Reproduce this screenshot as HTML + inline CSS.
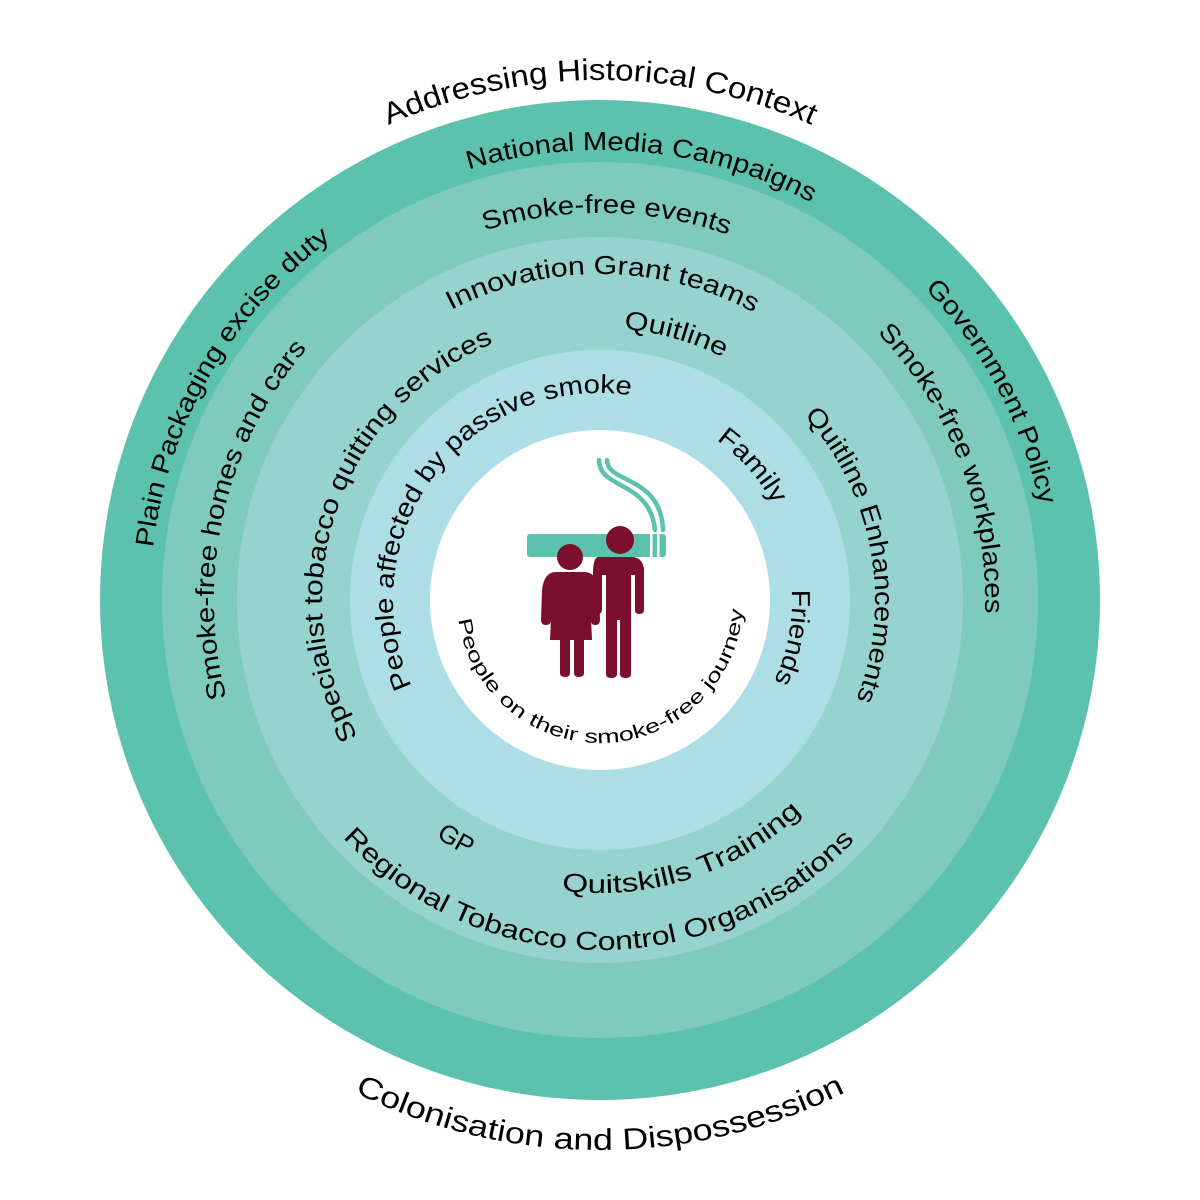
<!DOCTYPE html>
<html><head><meta charset="utf-8"><style>html,body{margin:0;padding:0;background:#fff}svg{display:block}</style></head>
<body>
<svg width="1200" height="1200" viewBox="0 0 1200 1200" xmlns="http://www.w3.org/2000/svg" font-family="Liberation Sans, sans-serif">
<defs>
<!-- clockwise full circles starting at bottom -->
<path id="t520" d="M600,1120 A520,520 0 1 1 600,80 A520,520 0 1 1 600,1120"/>
<path id="t450" d="M600,1050 A450,450 0 1 1 600,150 A450,450 0 1 1 600,1050"/>
<path id="t387" d="M600,987 A387,387 0 1 1 600,213 A387,387 0 1 1 600,987"/>
<path id="t386" d="M600,986 A386,386 0 1 1 600,214 A386,386 0 1 1 600,986"/>
<path id="t385" d="M600,985 A385,385 0 1 1 600,215 A385,385 0 1 1 600,985"/>
<path id="t326" d="M600,926 A326,326 0 1 1 600,274 A326,326 0 1 1 600,926"/>
<path id="t278" d="M600,878 A278,278 0 1 1 600,322 A278,278 0 1 1 600,878"/>
<path id="t275" d="M600,875 A275,275 0 1 1 600,325 A275,275 0 1 1 600,875"/>
<path id="t272" d="M600,872 A272,272 0 1 1 600,328 A272,272 0 1 1 600,872"/>
<path id="t207" d="M600,807 A207,207 0 1 1 600,393 A207,207 0 1 1 600,807"/>
<path id="t198" d="M600,798 A198,198 0 1 1 600,402 A198,198 0 1 1 600,798"/>
<path id="t192" d="M600,792 A192,192 0 1 1 600,408 A192,192 0 1 1 600,792"/>
<!-- counterclockwise full circles starting at top -->
<path id="b550" d="M600,50 A550,550 0 1 0 600,1150 A550,550 0 1 0 600,50"/>
<path id="b350" d="M600,250 A350,350 0 1 0 600,950 A350,350 0 1 0 600,250"/>
<path id="b293" d="M600,307 A293,293 0 1 0 600,893 A293,293 0 1 0 600,307"/>
<path id="b288" d="M600,312 A288,288 0 1 0 600,888 A288,288 0 1 0 600,312"/>
<path id="b143" d="M600,457 A143,143 0 1 0 600,743 A143,143 0 1 0 600,457"/>
</defs>
<circle cx="600" cy="600" r="500" fill="#5cc2ad"/>
<circle cx="600" cy="600" r="438" fill="#7ecbbd"/>
<circle cx="600" cy="600" r="363" fill="#96d3cf"/>
<circle cx="600" cy="600" r="250" fill="#aedee5"/>
<circle cx="600" cy="600" r="170" fill="#ffffff"/>

<g fill="#000" text-anchor="middle">
<text font-size="30"><textPath href="#t520" startOffset="50%" textLength="436" lengthAdjust="spacingAndGlyphs">Addressing Historical Context</textPath></text>
<text font-size="26"><textPath href="#t450" startOffset="51.53%" textLength="353" lengthAdjust="spacingAndGlyphs">National Media Campaigns</textPath></text>
<text font-size="26"><textPath href="#t387" startOffset="50.28%" textLength="248" lengthAdjust="spacingAndGlyphs">Smoke-free events</textPath></text>
<text font-size="26"><textPath href="#t326" startOffset="50.14%" textLength="315" lengthAdjust="spacingAndGlyphs">Innovation Grant teams</textPath></text>
<text font-size="26"><textPath href="#t272" startOffset="54.44%" textLength="104" lengthAdjust="spacingAndGlyphs">Quitline</textPath></text>
<text font-size="26"><textPath href="#t207" startOffset="35.28%" textLength="445" lengthAdjust="spacingAndGlyphs">People affected by passive smoke</textPath></text>
<text font-size="26"><textPath href="#t278" startOffset="30.28%" textLength="470" lengthAdjust="spacingAndGlyphs">Specialist tobacco quitting services</textPath></text>
<text font-size="26"><textPath href="#t386" startOffset="28.61%" textLength="373" lengthAdjust="spacingAndGlyphs">Smoke-free homes and cars</textPath></text>
<text font-size="26"><textPath href="#t450" startOffset="33.33%" textLength="366" lengthAdjust="spacingAndGlyphs">Plain Packaging excise duty</textPath></text>
<text font-size="26"><textPath href="#t450" startOffset="67.22%" textLength="248" lengthAdjust="spacingAndGlyphs">Government Policy</textPath></text>
<text font-size="26"><textPath href="#t385" startOffset="69.17%" textLength="309" lengthAdjust="spacingAndGlyphs">Smoke-free workplaces</textPath></text>
<text font-size="26"><textPath href="#t275" startOffset="72.11%" textLength="304" lengthAdjust="spacingAndGlyphs">Quitline Enhancements</textPath></text>
<text font-size="26"><textPath href="#t198" startOffset="63.5%" textLength="87" lengthAdjust="spacingAndGlyphs">Family</textPath></text>
<text font-size="26"><textPath href="#t192" startOffset="78.06%" textLength="94" lengthAdjust="spacingAndGlyphs">Friends</textPath></text>

<text font-size="30"><textPath href="#b550" startOffset="50%" textLength="509" lengthAdjust="spacingAndGlyphs">Colonisation and Dispossession</textPath></text>
<text font-size="26"><textPath href="#b350" startOffset="49.92%" textLength="574" lengthAdjust="spacingAndGlyphs">Regional Tobacco Control Organisations</textPath></text>
<text font-size="26"><textPath href="#b293" startOffset="55%" textLength="261" lengthAdjust="spacingAndGlyphs">Quitskills Training</textPath></text>
<text font-size="26"><textPath href="#b288" startOffset="41.39%">GP</textPath></text>
<text font-size="19"><textPath href="#b143" startOffset="50.56%" textLength="420" lengthAdjust="spacingAndGlyphs">People on their smoke-free journey</textPath></text>
</g>

<!-- icon -->
<g>
<path d="M599,460 C599,490 650,480 655,530" fill="none" stroke="#5cc2ad" stroke-width="4.5" stroke-linecap="round"/>
<path d="M607,460 C607,484 661,475 663,530" fill="none" stroke="#5cc2ad" stroke-width="4.5" stroke-linecap="round"/>
<rect x="527" y="534" width="139" height="23" rx="3" fill="#5cc2ad"/>
<rect x="650" y="534" width="2.5" height="23" fill="#fff"/>
<rect x="657" y="534" width="2.5" height="23" fill="#fff"/>
</g>
<g fill="#7a0f2e">
<!-- tall person -->
<circle cx="620" cy="540" r="14" fill="#7a0f2e" stroke="#fff" stroke-width="0"/>
<path d="M604,557 H637 Q649,557 650,570 V610 Q650,614 645,614 Q641,614 641,610 V575 H637 V674 Q637,678 632,678 Q626,678 626,674 V620 H623 V674 Q623,678 617,678 Q612,678 612,674 V575 H608 V610 Q608,614 603,614 Q599,614 599,610 V570 Q600,557 604,557 Z" transform="translate(-6,0)"/>
<!-- small person -->
<circle cx="570" cy="557" r="13"/>
<path d="M556,572 H584 Q597,572 599,590 L600,620 Q600,625 595,625 Q591,625 591,620 L590,596 L592,640 H584 V673 Q584,677 579,677 Q574,677 574,673 V640 H570 V673 Q570,677 565,677 Q560,677 560,673 V640 H550 L552,596 L551,620 Q551,625 546,625 Q541,625 541,620 L542,590 Q544,572 556,572 Z"/>
</g>
</svg>
</body></html>
